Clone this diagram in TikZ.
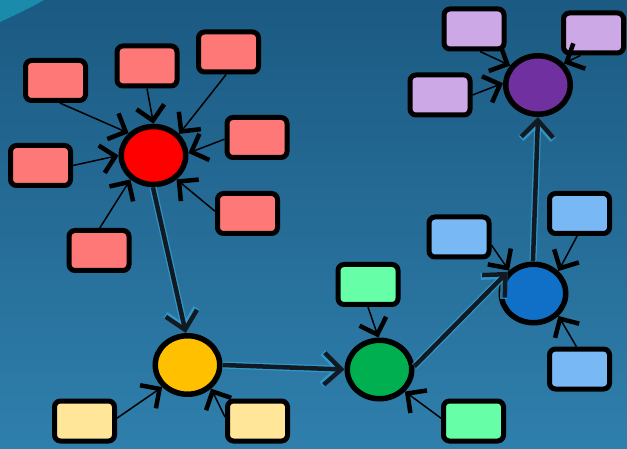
\documentclass[tikz,border=0pt]{standalone}
\usetikzlibrary{shapes.geometric,arrows.meta}
\definecolor{bgtop}{HTML}{1B5A82}
\definecolor{bgbot}{HTML}{2F7FAC}
\definecolor{teal1}{HTML}{1A8BAB}
\definecolor{redbox}{HTML}{FF7878}
\definecolor{redc}{HTML}{FF0000}
\definecolor{purbox}{HTML}{CCA8E6}
\definecolor{purc}{HTML}{7030A0}
\definecolor{blubox}{HTML}{78B8F4}
\definecolor{bluc}{HTML}{1070C8}
\definecolor{grebox}{HTML}{66FFA8}
\definecolor{grec}{HTML}{00B050}
\definecolor{yelbox}{HTML}{FFE699}
\definecolor{yelc}{HTML}{FFC000}
\definecolor{glow}{HTML}{36A6D8}
\definecolor{maindark}{HTML}{111A22}
\tikzset{
  smallbox/.style={draw=black, line width=5pt, rounded corners=6pt, minimum width=60pt, minimum height=40pt, inner sep=0pt},
  hub/.style={ellipse, draw=black, line width=5.5pt, minimum width=64.5pt, minimum height=58.5pt, inner sep=0pt},
  feed/.style={draw=black, line width=1.5pt, -{Straight Barb[length=14pt,width=28pt,line width=4.5pt]}},
  mainglowline/.style={draw=glow, line width=7pt, opacity=0.7, -{Straight Barb[length=17pt,width=32pt,line width=7pt]}},
  mainline/.style={draw=maindark, line width=4.5pt, -{Straight Barb[length=17pt,width=32pt,line width=4.5pt]}}
}
\begin{document}
\begin{tikzpicture}[x=1pt,y=-1pt]
\useasboundingbox (0,0) rectangle (627,449);
\shade[top color=bgtop, bottom color=bgbot] (0,0) rectangle (627,449);
\fill[teal1] (0,0) -- (0,22) .. controls (15,15) and (30,8) .. (44,0) -- cycle;

% hubs
\node[hub, fill=redc, minimum height=58pt] (R) at (153.5,155.5) {};
\node[hub, fill=yelc] (Ye) at (187.5,365) {};
\node[hub, fill=grec] (Gr) at (379.5,369.5) {};
\node[hub, fill=bluc] (Bl) at (533.5,293.5) {};
\node[hub, fill=purc] (Pu) at (538,85) {};

% red boxes
\node[smallbox, fill=redbox] (B1) at (55.5,80.5) {};
\node[smallbox, fill=redbox] (B2) at (147,66) {};
\node[smallbox, fill=redbox] (B3) at (228.5,52) {};
\node[smallbox, fill=redbox] (B4) at (257,137.5) {};
\node[smallbox, fill=redbox] (B5) at (247.5,213.5) {};
\node[smallbox, fill=redbox] (B6) at (40.5,165.5) {};
\node[smallbox, fill=redbox] (B7) at (99,250.5) {};
% purple boxes
\node[smallbox, fill=purbox] (P1) at (474,29) {};
\node[smallbox, fill=purbox] (P2) at (593.5,33) {};
\node[smallbox, fill=purbox] (P3) at (440,95) {};
% blue boxes
\node[smallbox, fill=blubox] (L1) at (459,237) {};
\node[smallbox, fill=blubox] (L2) at (579.5,213.5) {};
\node[smallbox, fill=blubox] (L3) at (579.5,369) {};
% yellow boxes
\node[smallbox, fill=yelbox] (Y1) at (84.5,421) {};
\node[smallbox, fill=yelbox] (Y2) at (257.5,421) {};
% green boxes
\node[smallbox, fill=grebox] (G1) at (368,284.5) {};
\node[smallbox, fill=grebox] (G2) at (473.5,421) {};

% feeder arrows
\draw[feed] (B1.-79) -- (R.138);
\draw[feed] (B2.south) -- (R.90);
\draw[feed] (B3.-96) -- (R.40);
\draw[feed] (B4.183) -- (R.4);
\draw[feed] (B5.176) -- (R.-46);
\draw[feed] (B6.0) -- (R.180);
\draw[feed] (B7.88) -- (R.-134);
\draw[feed] (P1.-75) -- (Pu.145);
\draw[feed] (P2.-120) -- (Pu.40);
\draw[feed] (P3.east) -- (Pu.177);
\draw[feed] (L1.-14) -- (Bl.137);
\draw[feed] (L2.-96) -- (Bl.42);
\draw[feed] (L3.98) -- (Bl.-42);
\draw[feed] (Y1.5) -- (Ye.-139);
\draw[feed] (Y2.173) -- (Ye.-45);
\draw[feed] (G1.south) -- (Gr.92);
\draw[feed] (G2.175) -- (Gr.-41);

% main chain
\draw[mainglowline] (R.-91) -- (Ye.93);
\draw[mainline] (R.-91) -- (Ye.93);
\draw[mainglowline] (Ye.0) -- (Gr.180);
\draw[mainline] (Ye.0) -- (Gr.180);
\draw[mainglowline] (Gr.5) -- (Bl.140);
\draw[mainline] (Gr.5) -- (Bl.140);
\draw[mainglowline] (Bl.91) -- (Pu.-90);
\draw[mainline] (Bl.91) -- (Pu.-90);
\end{tikzpicture}
\end{document}
